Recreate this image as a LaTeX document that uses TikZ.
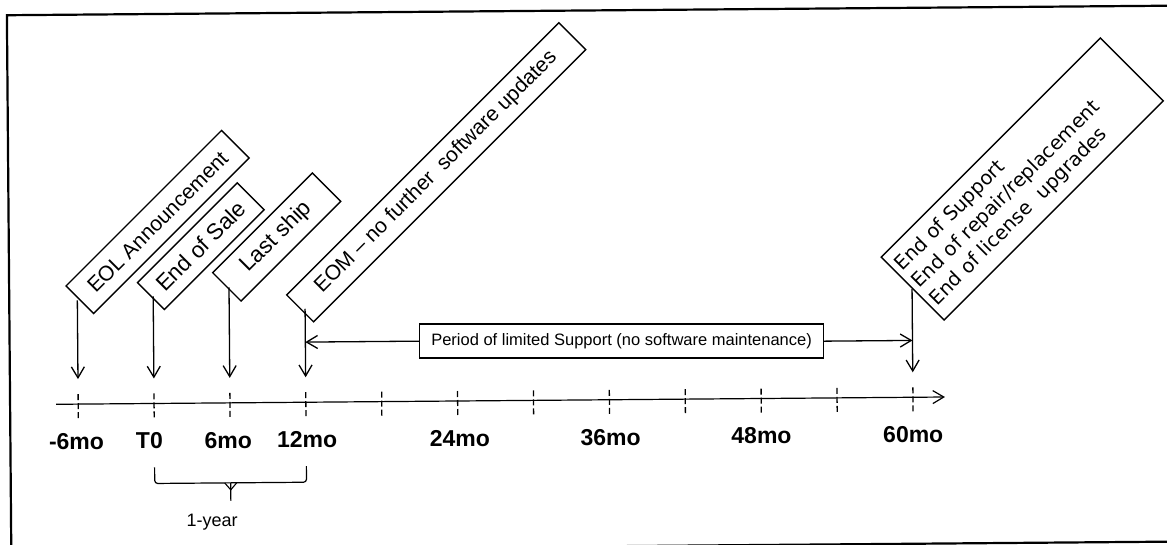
\documentclass[tikz,border=0pt]{standalone}
\usepackage{fontspec}
\setmainfont{Liberation Sans}
\newfontfamily\dvfont{DejaVu Sans}
\usetikzlibrary{arrows.meta,calc}
\begin{document}
\begin{tikzpicture}[x=1pt,y=-1pt,
  evbox/.style={draw, line width=1.4pt, rotate=45, inner sep=0pt, minimum height=39pt, font=\fontsize{21}{25}\selectfont},
  arr/.style={line width=1.3pt, -{Straight Barb[length=11pt,width=13pt]}},
  tickline/.style={line width=1.3pt, dash pattern=on 6pt off 3pt},
  lbl/.style={font=\bfseries\fontsize{23}{26}\selectfont, inner sep=0pt},
  framel/.style={line width=2.2pt},
]
\useasboundingbox (0,0) rectangle (1167,544);
\fill[white] (0,0) rectangle (1167,544);
\clip (0,0) rectangle (1167,544);
\begin{scope}[rotate around={0.47:(583,272)}]
% frame
\coordinate (ftr) at (1190,10.5);
\coordinate (ftl) at (9,10.5);
\coordinate (fbl) at (9,546.5);
\coordinate (fbr) at (1190,546.5);
\draw[framel] (ftr) -- (ftl) -- (fbl) -- (fbr);

% tick positions
\coordinate (tm6) at (77.1,400);
\coordinate (t0)  at (153,400);
\coordinate (t6)  at (228.9,400);
\coordinate (t12) at (304.8,400);
\coordinate (t18) at (380.7,400);
\coordinate (t24) at (456.6,400);
\coordinate (t30) at (532.5,400);
\coordinate (t36) at (608.4,400);
\coordinate (t42) at (684.3,400);
\coordinate (t48) at (760.2,400);
\coordinate (t54) at (836.1,400);
\coordinate (t60) at (912,400);
\coordinate (axs) at (55,400);
\coordinate (axe) at (944,400);
\coordinate (tipy) at (0,375);

% axis
\draw[arr, line width=1.2pt] (axs) -- (axe);
\foreach \t in {tm6,t0,t6,t12,t18,t24,t30,t36,t42,t48,t54,t60}
  \draw[tickline] ($(\t)+(0,-10)$) -- ($(\t)+(0,14)$);

% labels
\node[lbl] (lm6) at ($(tm6)+(-2,37.5)$) {-6mo};
\node[lbl] (l0)  at ($(t0)+(-5,37.5)$) {T0};
\node[lbl] (l6)  at ($(t6)+(-2,37.5)$) {6mo};
\node[lbl] (l12) at ($(t12)+(1,37.5)$) {12mo};
\node[lbl] (l24) at ($(t24)+(2,37.5)$) {24mo};
\node[lbl] (l36) at ($(t36)+(1,37.5)$) {36mo};
\node[lbl] (l48) at ($(t48)+(0,37.5)$) {48mo};
\node[lbl] (l60) at ($(t60)+(0,37.5)$) {60mo};

% event boxes
\node[evbox, minimum width=220pt] (eol) at (158,218.5) {EOL Announcement};
\node[evbox, minimum width=141pt, minimum height=38pt, font=\fontsize{22.5}{26}\selectfont] (eos) at (201,243) {End of Sale};
\node[evbox, minimum width=141pt, minimum height=40pt, font=\fontsize{22.5}{26}\selectfont] (ls) at (277,234.5) {Last ship};
\node[evbox, minimum width=385pt, minimum height=38pt] (eom) at (437,171) {EOM – no further\ \ software updates};
\node[evbox, text width=300pt, inner xsep=5pt, minimum height=89pt, align=left, font=\dvfont\fontsize{19.5}{24.5}\selectfont] (eosup) at (1023,182.6) {End of Support\\End of repair/replacement\\End of license\ \ upgrades};

% event arrows
\draw[arr] (tm6 |- eol.west) -- (tm6 |- tipy);
\draw[arr] (t0 |- eos.west) -- (t0 |- tipy);
\draw[arr] (t6 |- ls.west) -- (t6 |- tipy);
\draw[arr] (t12 |- eom.west) -- (t12 |- tipy);
\draw[arr] (t60 |- eosup.west) -- (t60 |- tipy);

% period box
\node[draw, line width=1.4pt, minimum width=404pt, minimum height=34pt, inner sep=0pt, font=\fontsize{16.5}{20}\selectfont] (pbox) at (621,341.5) {Period of limited Support (no software maintenance)};
\draw[arr] (pbox.west) -- (pbox.west -| t12);
\draw[arr] (pbox.east) -- (pbox.east -| t60);

% one-year bracket
\coordinate (bl) at (0,464);
\coordinate (bm) at (229,480);
\draw[line width=1.2pt, rounded corners=3pt] (t0 |- bl) -- ($(t0 |- bl)+(0,16)$) -| (t12 |- bl);
\draw[line width=1.2pt] (bm) -- ++(0,18);
\draw[line width=1.1pt] ($(bm)+(-6,0)$) -- ($(bm)+(0,7)$) -- ($(bm)+(6,0)$);
\node[font=\fontsize{18}{21}\selectfont, inner sep=0pt] (oneyr) at (210,519) {1-year};
\end{scope}
\end{tikzpicture}
\end{document}
